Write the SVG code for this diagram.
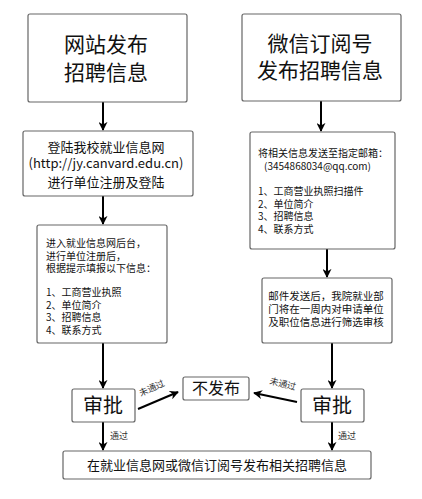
<svg xmlns="http://www.w3.org/2000/svg" width="422" height="499" viewBox="0 0 422 499">
<defs>
<style>
.box{fill:#fff;stroke:#666;stroke-width:1.2}
.t{font-family:"Noto Sans CJK SC","Noto Sans","Liberation Sans",sans-serif;fill:#111}
.big{font-size:21px}
.mid{font-size:13px}
.sm{font-size:10px}
.lab{font-size:9px;fill:#333}
.c{stroke:#000;stroke-width:2;fill:none;marker-end:url(#ah)}
</style>
<marker id="ah" viewBox="0 0 10 10" refX="9" refY="5" markerWidth="4.5" markerHeight="4.5" orient="auto" markerUnits="strokeWidth">
<path d="M0,0 L10,5 L0,10 L3,5 z" fill="#000"/>
</marker>
</defs>
<rect width="422" height="499" fill="#fff"/>
<g id="connectors">
<line class="c" x1="103" y1="102" x2="103" y2="130"/>
<line class="c" x1="321" y1="101" x2="321" y2="131"/>
<line class="c" x1="103" y1="196" x2="103" y2="224"/>
<line class="c" x1="327" y1="249" x2="327" y2="277"/>
<line class="c" x1="103" y1="343" x2="103" y2="388"/>
<line class="c" x1="332" y1="343" x2="332" y2="388"/>
<line class="c" x1="138" y1="409" x2="178" y2="392"/>
<line class="c" x1="297" y1="402" x2="254" y2="393"/>
<line class="c" x1="103" y1="422" x2="103" y2="450"/>
<line class="c" x1="332" y1="422" x2="332" y2="450"/>
<text class="t lab" text-anchor="middle" transform="translate(153,391) rotate(-24)">未通过</text>
<text class="t lab" text-anchor="middle" transform="translate(282,387) rotate(14)">未通过</text>
<text class="t lab" x="110" y="439">通过</text>
<text class="t lab" x="338" y="439">通过</text>
</g>
<g id="n1">
<rect class="box" x="28" y="14" width="159" height="88" rx="2"/>
<text class="t big" text-anchor="middle"><tspan x="106" y="52">网站发布</tspan><tspan x="106" y="80">招聘信息</tspan></text>
</g>
<g id="n2">
<rect class="box" x="242" y="14" width="159" height="87" rx="2"/>
<text class="t big" text-anchor="middle"><tspan x="320" y="51">微信订阅号</tspan><tspan x="320" y="78">发布招聘信息</tspan></text>
</g>
<g id="n3">
<rect class="box" x="23" y="131" width="170" height="65" rx="2"/>
<text class="t mid" text-anchor="middle"><tspan x="106" y="152">登陆我校就业信息网</tspan><tspan x="106" y="168">(http://jy.canvard.edu.cn)</tspan><tspan x="106" y="187">进行单位注册及登陆</tspan></text>
</g>
<g id="n4">
<rect class="box" x="37" y="225" width="130" height="118" rx="2"/>
<text class="t sm"><tspan x="46" y="247">进入就业信息网后台，</tspan><tspan x="46" y="259.5">进行单位注册后，</tspan><tspan x="46" y="272">根据提示填报以下信息：</tspan><tspan x="46" y="296">1、工商营业执照</tspan><tspan x="46" y="308.5">2、单位简介</tspan><tspan x="46" y="321">3、招聘信息</tspan><tspan x="46" y="333.5">4、联系方式</tspan></text>
</g>
<g id="n5">
<rect class="box" x="250" y="132" width="145" height="117" rx="2"/>
<text class="t sm"><tspan x="258" y="157">将相关信息发送至指定邮箱：</tspan><tspan x="264" y="169.5">(3454868034@qq.com)</tspan><tspan x="258" y="195">1、工商营业执照扫描件</tspan><tspan x="258" y="207.5">2、单位简介</tspan><tspan x="258" y="220">3、招聘信息</tspan><tspan x="258" y="232.5">4、联系方式</tspan></text>
</g>
<g id="n6">
<rect class="box" x="262" y="278" width="130" height="65" rx="2"/>
<text class="t" style="font-size:10.5px" text-anchor="middle"><tspan x="326" y="300">邮件发送后，我院就业部</tspan><tspan x="326" y="313">门将在一周内对申请单位</tspan><tspan x="326" y="326">及职位信息进行筛选审核</tspan></text>
</g>
<g id="n7">
<rect class="box" x="72" y="389" width="63" height="33" rx="2"/>
<text class="t big" text-anchor="middle" x="103" y="413" style="font-size:20px">审批</text>
</g>
<g id="n8">
<rect class="box" x="183" y="377" width="66" height="23" rx="2"/>
<text class="t" text-anchor="middle" x="216" y="394" style="font-size:16px">不发布</text>
</g>
<g id="n9">
<rect class="box" x="301" y="389" width="63" height="33" rx="2"/>
<text class="t big" text-anchor="middle" x="332" y="413" style="font-size:20px">审批</text>
</g>
<g id="n10">
<rect class="box" x="63" y="451" width="308" height="28" rx="2"/>
<text class="t mid" text-anchor="middle" x="217" y="470">在就业信息网或微信订阅号发布相关招聘信息</text>
</g>
</svg>
